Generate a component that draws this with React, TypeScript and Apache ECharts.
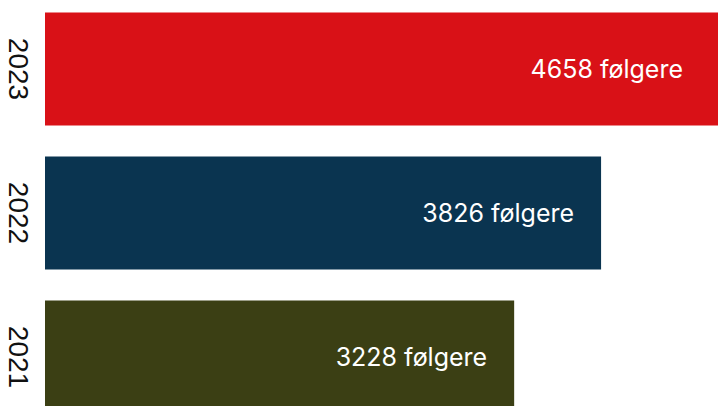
import React, { useEffect, useRef } from "react";
import * as echarts from "echarts";

const years = ["2021", "2022", "2023"];
const followers = [3228, 3826, 4658];
const barColors = ["#3B3F14", "#0A3450", "#D91117"];
const unit = "følgere";

export default function App() {
  const ref = useRef<HTMLDivElement>(null);
  useEffect(() => {
    if (!ref.current) return;
    const chart = echarts.init(ref.current, null, { renderer: "svg" });
    chart.setOption({
      animation: false,
      grid: { left: 45, right: 0, top: 0, bottom: 0, containLabel: false },
      xAxis: {
        type: "value",
        min: 0,
        max: 4658,
        show: false,
      },
      yAxis: {
        type: "category",
        data: years,
        axisLine: { show: false },
        axisTick: { show: false },
        axisLabel: {
          rotate: -90,
          margin: 13,
          color: "#111",
          fontSize: 28,
          fontFamily: "Liberation Sans, Arial, sans-serif",
        },
      },
      series: [
        {
          type: "bar",
          barWidth: 113,
          data: followers.map((v, i) => ({
            value: v,
            itemStyle: { color: barColors[i] },
            label: { distance: i === 2 ? 39 : 27 },
          })),
          label: {
            show: true,
            position: "insideRight",
            color: "#fff",
            fontSize: 25,
            fontFamily: "Inter, sans-serif",
            formatter: (p: any) => `${p.value} ${unit}`,
          },
        },
      ],
    });
    return () => chart.dispose();
  }, []);
  return (
    <div
      style={{ position: "absolute", left: 0, top: 0, width: 718, height: 406, overflow: "hidden", background: "#fff" }}
    >
      <div
        ref={ref}
        style={{ position: "absolute", left: 0, top: -3, width: 722, height: 432 }}
      />
    </div>
  );
}
